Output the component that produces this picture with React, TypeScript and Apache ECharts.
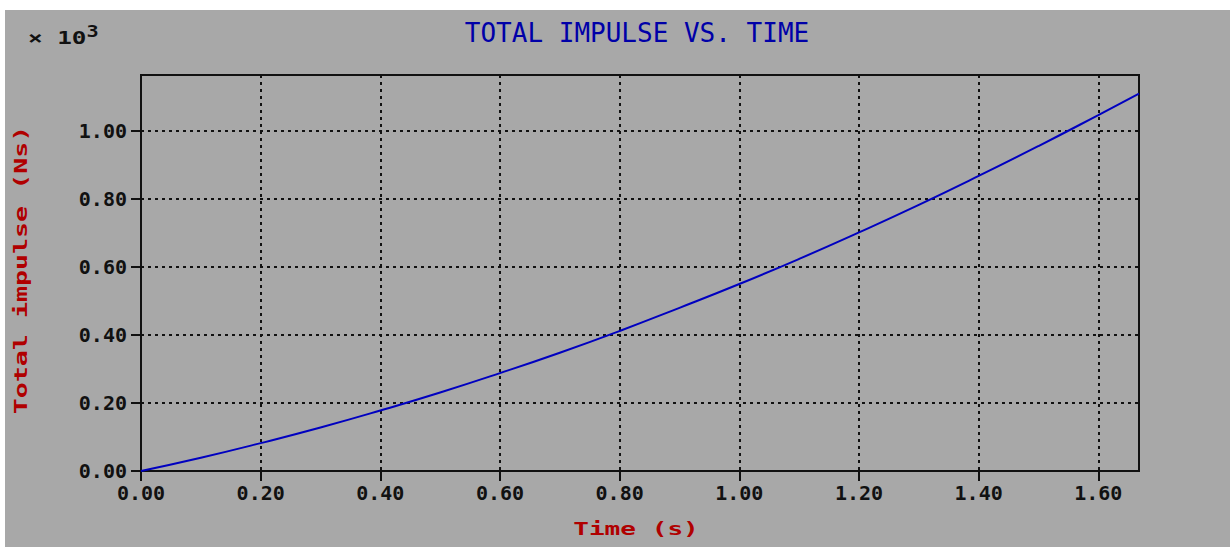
import React, { useEffect, useRef } from "react";
import * as echarts from "echarts";

const timeS = [0, 0.1, 0.2, 0.3, 0.4, 0.5, 0.6, 0.7, 0.8, 0.9, 1.0, 1.1, 1.2, 1.3, 1.4, 1.5, 1.6, 1.668];
const impulseK = [0, 0.039, 0.082, 0.128, 0.178, 0.231, 0.288, 0.348, 0.412, 0.48, 0.55, 0.624, 0.702, 0.783, 0.868, 0.956, 1.047, 1.11];
const xTicks = [0, 0.2, 0.4, 0.6, 0.8, 1.0, 1.2, 1.4, 1.6];
const yTicks = [0, 0.2, 0.4, 0.6, 0.8, 1.0];
const titleText = "TOTAL IMPULSE VS. TIME";
const xName = "Time (s)";
const yName = "Total impulse (Ns)";

const FONT = "'DejaVu Sans Mono', 'Liberation Mono', monospace";

export default function App() {
  const ref = useRef<HTMLDivElement>(null);
  useEffect(() => {
    if (!ref.current) return;
    const chart = echarts.init(ref.current, null, { renderer: "svg" });
    const data = timeS.map((t, i) => [t, impulseK[i]]);
    chart.setOption({
      animation: false,
      backgroundColor: "#ffffff",
      graphic: [
        {
          type: "rect",
          z: -10,
          silent: true,
          shape: { x: 5, y: 10, width: 1225, height: 537 },
          style: { fill: "#a8a8a8" },
        },
        {
          type: "text",
          x: 28,
          y: 24,
          scaleX: 1.35,
          style: {
            text: "× 10{sup|3}",
            font: `bold 18px ${FONT}`,
            fill: "#111111",
            rich: {
              sup: { font: `bold 15px ${FONT}`, fill: "#111111", verticalAlign: "top", padding: [0, 0, 12, 0] },
            },
          },
        },
        {
          type: "text",
          x: 637,
          y: 33,
          style: {
            text: titleText,
            font: `normal 26px ${FONT}`,
            fill: "#0000a8",
            align: "center",
            verticalAlign: "middle",
          },
        },
        {
          type: "text",
          x: 636,
          y: 529,
          scaleX: 1.45,
          style: {
            text: xName,
            font: `bold 18px ${FONT}`,
            fill: "#b00000",
            align: "center",
            verticalAlign: "middle",
          },
        },
        {
          type: "text",
          x: 21,
          y: 270,
          rotation: Math.PI / 2,
          scaleX: 1.48,
          style: {
            text: yName,
            font: `bold 18px ${FONT}`,
            fill: "#b00000",
            align: "center",
            verticalAlign: "middle",
          },
        },
      ],
      grid: {
        left: 141,
        top: 75,
        right: 91,
        bottom: 76,
        show: true,
        borderColor: "#111111",
        borderWidth: 2,
        backgroundColor: "transparent",
      },
      xAxis: {
        type: "value",
        min: 0,
        max: 1.668,
        interval: 0.2,
        axisLine: { show: true, onZero: false, lineStyle: { color: "#111111", width: 2 } },
        axisTick: { show: true, inside: false, length: 10, lineStyle: { color: "#111111", width: 2 }, customValues: xTicks },
        axisLabel: {
          margin: 12,
          fontFamily: FONT,
          fontSize: 20,
          fontWeight: "bold",
          color: "#111111",
          customValues: xTicks,
          formatter: (v: number) => v.toFixed(2),
        },
        splitLine: { show: true, lineStyle: { color: "#111111", width: 2, type: [3, 4] } },
      },
      yAxis: {
        type: "value",
        min: 0,
        max: 1.165,
        interval: 0.2,
        axisLine: { show: true, lineStyle: { color: "#111111", width: 2 } },
        axisTick: { show: true, inside: false, length: 10, lineStyle: { color: "#111111", width: 2 }, customValues: yTicks },
        axisLabel: {
          margin: 14,
          fontFamily: FONT,
          fontSize: 20,
          fontWeight: "bold",
          color: "#111111",
          customValues: yTicks,
          formatter: (v: number) => v.toFixed(2),
        },
        splitLine: { show: true, lineStyle: { color: "#111111", width: 2, type: [3, 4] } },
      },
      series: [
        {
          type: "line",
          data,
          showSymbol: false,
          smooth: true,
          lineStyle: { color: "#0000c0", width: 2 },
        },
      ],
    });
    return () => chart.dispose();
  }, []);
  return (
    <div
      ref={ref}
      style={{ position: "fixed", left: 0, top: 0, width: 1230, height: 547 }}
    />
  );
}
